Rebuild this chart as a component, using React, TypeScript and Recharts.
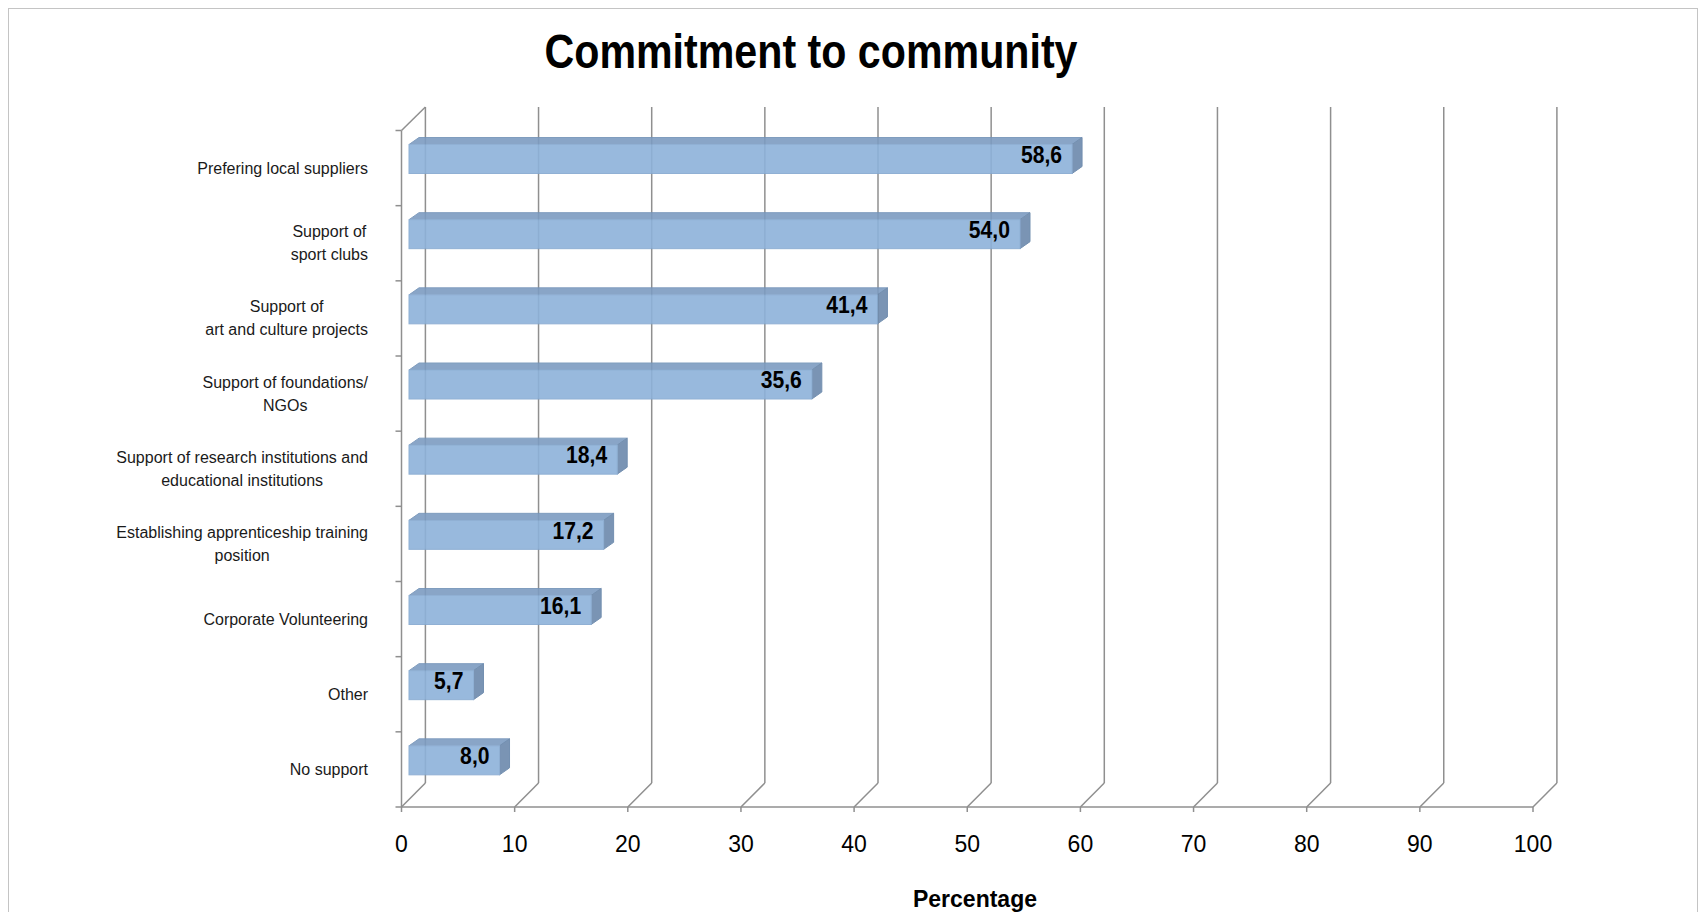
import React from "react";
import { BarChart, Bar, XAxis, YAxis, CartesianGrid, LabelList } from "recharts";

const categories = [
  "Prefering local suppliers",
  "Support of\nsport clubs",
  "Support of\nart and culture projects",
  "Support of foundations/\nNGOs",
  "Support of research institutions and\neducational institutions",
  "Establishing apprenticeship training\nposition",
  "Corporate Volunteering",
  "Other",
  "No support",
];
const percentages = [58.6, 54.0, 41.4, 35.6, 18.4, 17.2, 16.1, 5.7, 8.0];
const valueTicks = [0, 10, 20, 30, 40, 50, 60, 70, 80, 90, 100];

const title = "Commitment to community";
const axisTitle = "Percentage";

const data = categories.map((name, i) => ({ name, value: percentages[i] }));

// layout (svg coords)
const W = 1688;
const H = 903;
const PLOT_LEFT = 400;
const PLOT_RIGHT = 1531.5;
const PLOT_TOP = 112.5;
const PLOT_BOTTOM = 789;
const X_AXIS_H = 60;
const BAND = (PLOT_BOTTOM - PLOT_TOP) / categories.length;

// pseudo 3d offsets
const FRONT_DX = -7.5;
const FRONT_DY = 9;
const BACK_DX = 16.4;
const BACK_TOP_DY = -14.5;
const BACK_BOTTOM_DY = -15;
const BAR_DX = 10;
const BAR_DY = 7;

const FONT = "'Liberation Sans', Arial, sans-serif";
const GRID = "#8f8f8f";

let ctx: CanvasRenderingContext2D | null = null;
const textWidth = (s: string, font: string) => {
  if (!ctx) ctx = document.createElement("canvas").getContext("2d");
  if (!ctx) return s.length * 8;
  ctx.font = font;
  return ctx.measureText(s).width;
};

const fmt = (v: number) => v.toFixed(1).replace(".", ",");

const BackWall = (props: any) => {
  const { x1, y1, y2 } = props;
  const bx = x1 + BACK_DX;
  return (
    <g key={props.key}>
      <line x1={bx} y1={y1 + BACK_TOP_DY} x2={bx} y2={y2 + BACK_BOTTOM_DY} stroke={GRID} strokeWidth={1.5} />
      <line x1={x1 + FRONT_DX} y1={y2 + FRONT_DY} x2={bx} y2={y2 + BACK_BOTTOM_DY} stroke={GRID} strokeWidth={1.5} />
    </g>
  );
};

const ValueTick = (props: any) => {
  const { x, y, payload } = props;
  const fx = x + FRONT_DX;
  const fy = y + FRONT_DY;
  return (
    <g>
      <line x1={fx} y1={fy} x2={fx} y2={fy + 5} stroke={GRID} strokeWidth={1.5} />
      {payload.value === 0 && (
        <g>
          <line x1={fx} y1={fy} x2={fx + (PLOT_RIGHT - PLOT_LEFT)} y2={fy} stroke={GRID} strokeWidth={1.5} />
          <line x1={fx} y1={PLOT_TOP + FRONT_DY} x2={fx} y2={fy} stroke={GRID} strokeWidth={1.5} />
          <line
            x1={fx}
            y1={PLOT_TOP + FRONT_DY}
            x2={x + BACK_DX}
            y2={PLOT_TOP + BACK_TOP_DY}
            stroke={GRID}
            strokeWidth={1.5}
          />
        </g>
      )}
      <text
        x={fx}
        y={y + 46}
        textAnchor="middle"
        dominantBaseline="central"
        fontFamily={FONT}
        fontSize={23}
        fill="#000"
      >
        {payload.value}
      </text>
    </g>
  );
};

const CategoryTick = (props: any) => {
  const { x, y, payload, index } = props;
  const lines = String(payload.value).split("\n");
  const font = `16px ${FONT}`;
  const maxW = Math.max(...lines.map((l) => textWidth(l, font)));
  const cx = x - 41 - maxW / 2;
  const cy = y + FRONT_DY;
  const fx = x + FRONT_DX;
  return (
    <g>
      <line x1={fx - 6} y1={cy - BAND / 2} x2={fx} y2={cy - BAND / 2} stroke={GRID} strokeWidth={1.5} />
      {index === categories.length - 1 && (
        <line x1={fx - 6} y1={cy + BAND / 2} x2={fx} y2={cy + BAND / 2} stroke={GRID} strokeWidth={1.5} />
      )}
      {lines.map((l, i) => (
        <text
          key={i}
          x={cx}
          y={cy + (i - (lines.length - 1) / 2) * 23}
          textAnchor="middle"
          dominantBaseline="central"
          fontFamily={FONT}
          fontSize={16}
          fill="#1a1a1a"
        >
          {l}
        </text>
      ))}
    </g>
  );
};

const Bar3D = (props: any) => {
  const { x, y, width, height } = props;
  if (width == null || height == null) return null;
  const r = x + width;
  const top = `${x},${y} ${x + BAR_DX},${y - BAR_DY} ${r + BAR_DX},${y - BAR_DY} ${r},${y}`;
  const side = `${r},${y} ${r + BAR_DX},${y - BAR_DY} ${r + BAR_DX},${y + height - BAR_DY} ${r},${y + height}`;
  return (
    <g opacity={0.9}>
      <polygon points={top} fill="#7d9cc1" stroke="#7393b8" strokeWidth={1} />
      <polygon points={side} fill="#6c89ac" stroke="#6584a8" strokeWidth={1} />
      <rect x={x} y={y} width={width} height={height} fill="#8db2da" stroke="#84a8d0" strokeWidth={1} />
    </g>
  );
};

const ValueLabel = (props: any) => {
  const { x, y, width, height, value } = props;
  return (
    <text
      transform={`translate(${x + width - 10},${y + height / 2 - 4}) scale(0.92,1)`}
      textAnchor="end"
      dominantBaseline="central"
      fontFamily={FONT}
      fontSize={23}
      fontWeight="bold"
      fill="#000"
    >
      {fmt(value)}
    </text>
  );
};

export default function App() {
  return (
    <div
      style={{
        position: "relative",
        width: W,
        height: H,
        border: "1px solid #c4c4c4",
        background: "#fff",
      }}
    >
      <BarChart
        width={W}
        height={H}
        data={data}
        layout="vertical"
        margin={{ top: PLOT_TOP, right: W - PLOT_RIGHT, bottom: H - PLOT_BOTTOM - X_AXIS_H, left: 0 }}
      >
        <CartesianGrid horizontal={false} vertical={BackWall} />
        <XAxis
          type="number"
          domain={[0, 100]}
          ticks={valueTicks}
          interval={0}
          height={X_AXIS_H}
          axisLine={false}
          tickLine={false}
          tickSize={0}
          tickMargin={0}
          tick={ValueTick}
        />
        <YAxis
          type="category"
          dataKey="name"
          width={PLOT_LEFT}
          interval={0}
          axisLine={false}
          tickLine={false}
          tickSize={0}
          tickMargin={0}
          tick={CategoryTick}
        />
        <Bar dataKey="value" barSize={29} shape={Bar3D} isAnimationActive={false}>
          <LabelList dataKey="value" content={ValueLabel} />
        </Bar>
      </BarChart>
      <svg
        width={W}
        height={H}
        style={{ position: "absolute", left: 0, top: 0, pointerEvents: "none" }}
      >
        <text
          x={802}
          y={58.5}
          textAnchor="middle"
          fontFamily={FONT}
          fontSize={48}
          fontWeight="bold"
          textLength={533}
          lengthAdjust="spacingAndGlyphs"
          fill="#000"
        >
          {title}
        </text>
        <text
          x={966}
          y={898}
          textAnchor="middle"
          fontFamily={FONT}
          fontSize={23}
          fontWeight="bold"
          fill="#000"
        >
          {axisTitle}
        </text>
      </svg>
    </div>
  );
}
